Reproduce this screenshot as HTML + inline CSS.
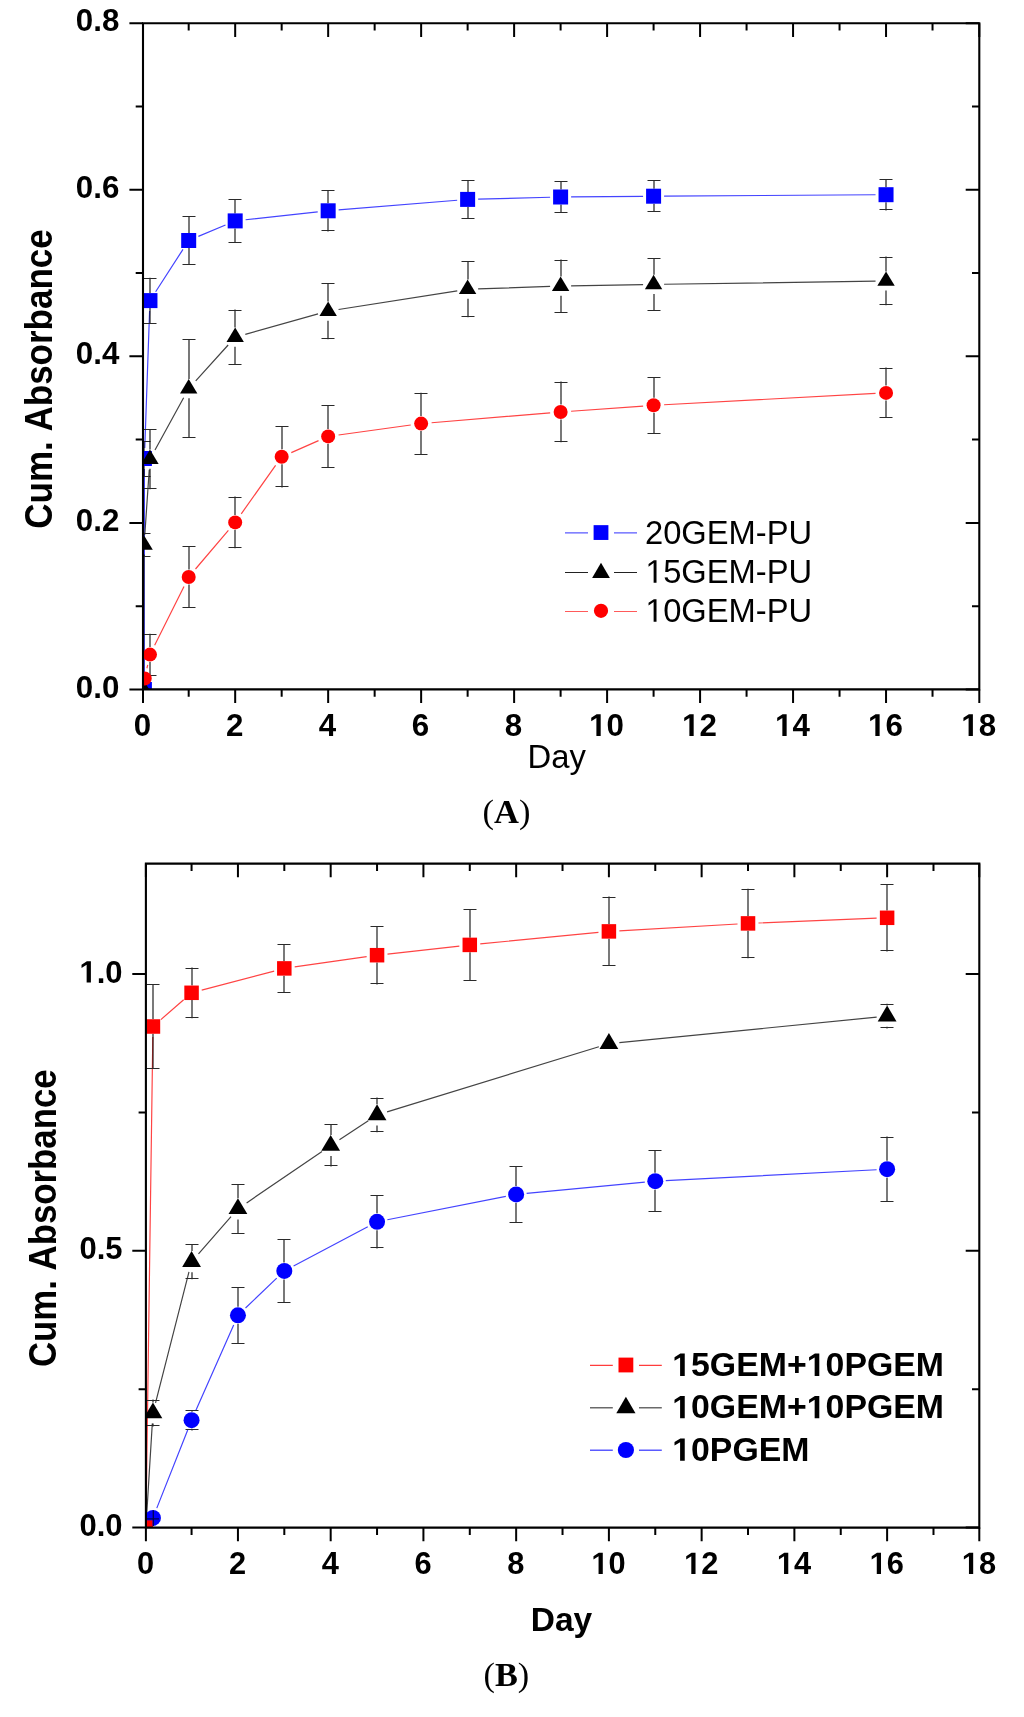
<!DOCTYPE html>
<html><head><meta charset="utf-8"><title>Cumulative Absorbance vs Day</title>
<style>html,body{margin:0;padding:0;background:#fff;}body{width:1024px;height:1717px;position:relative;overflow:hidden;}text{font-kerning:none;}</style>
</head><body>
<svg width="1024" height="1717" viewBox="0 0 1024 1717" font-family='"Liberation Sans", sans-serif' style="position:absolute;left:0;top:0;will-change:transform">
<defs>
<clipPath id="ca"><rect x="143.0" y="23.3" width="836.3" height="666.1"/></clipPath>
</defs>
<g transform="translate(133.696,735.900)"><text x="0.000" y="0" font-size="31.3" font-weight="bold">0</text></g>
<g transform="translate(225.876,735.900)"><text x="0.000" y="0" font-size="31.3" font-weight="bold">2</text></g>
<g transform="translate(318.856,735.900)"><text x="0.000" y="0" font-size="31.3" font-weight="bold">4</text></g>
<g transform="translate(411.836,735.900)"><text x="0.000" y="0" font-size="31.3" font-weight="bold">6</text></g>
<g transform="translate(504.816,735.900)"><text x="0.000" y="0" font-size="31.3" font-weight="bold">8</text></g>
<g transform="translate(589.092,735.900)"><path transform="translate(0.000,0) scale(0.015283,-0.015283)" d="M478,0 L478,1170 L140,959 L140,1180 L493,1409 L759,1409 L759,0 Z"/><text x="17.408" y="0" font-size="31.3" font-weight="bold">0</text></g>
<g transform="translate(682.072,735.900)"><path transform="translate(0.000,0) scale(0.015283,-0.015283)" d="M478,0 L478,1170 L140,959 L140,1180 L493,1409 L759,1409 L759,0 Z"/><text x="17.408" y="0" font-size="31.3" font-weight="bold">2</text></g>
<g transform="translate(775.052,735.900)"><path transform="translate(0.000,0) scale(0.015283,-0.015283)" d="M478,0 L478,1170 L140,959 L140,1180 L493,1409 L759,1409 L759,0 Z"/><text x="17.408" y="0" font-size="31.3" font-weight="bold">4</text></g>
<g transform="translate(868.032,735.900)"><path transform="translate(0.000,0) scale(0.015283,-0.015283)" d="M478,0 L478,1170 L140,959 L140,1180 L493,1409 L759,1409 L759,0 Z"/><text x="17.408" y="0" font-size="31.3" font-weight="bold">6</text></g>
<g transform="translate(961.292,735.900)"><path transform="translate(0.000,0) scale(0.015283,-0.015283)" d="M478,0 L478,1170 L140,959 L140,1180 L493,1409 L759,1409 L759,0 Z"/><text x="17.408" y="0" font-size="31.3" font-weight="bold">8</text></g>
<g transform="translate(75.789,697.500)"><text x="0.000" y="0" font-size="31.3" font-weight="bold">0.0</text></g>
<g transform="translate(75.789,530.980)"><text x="0.000" y="0" font-size="31.3" font-weight="bold">0.2</text></g>
<g transform="translate(75.789,364.460)"><text x="0.000" y="0" font-size="31.3" font-weight="bold">0.4</text></g>
<g transform="translate(75.789,197.940)"><text x="0.000" y="0" font-size="31.3" font-weight="bold">0.6</text></g>
<g transform="translate(75.789,31.420)"><text x="0.000" y="0" font-size="31.3" font-weight="bold">0.8</text></g>
<g clip-path="url(#ca)">
<path d="M144.40,679.00 L144.40,469.00 M144.77,448.01 L149.59,311.09 M155.65,291.77 L183.00,249.33 M198.37,236.42 L225.50,224.98 M245.62,219.77 L317.72,211.93 M338.63,209.94 L457.16,200.26 M478.13,199.13 L550.11,197.27 M571.11,196.91 L643.09,196.29 M664.09,196.13 L875.54,194.77 " fill="none" stroke="#4444ff" stroke-width="1.2"/>
<path d="M144,441.20 V451.00 M144,476.60 V466.00 M150,277.80 V293.10 M150,323.50 V308.10 M189,216.40 V233.00 M189,264.70 V248.00 M235,199.00 V213.40 M235,242.80 V228.40 M328,190.30 V203.30 M328,231.40 V218.30 M468,180.50 V191.90 M468,218.60 V206.90 M561,181.00 V189.50 M561,213.00 V204.50 M654,180.50 V188.70 M654,211.80 V203.70 M886,179.00 V187.20 M886,210.40 V202.20 " fill="none" stroke="#000" stroke-width="1.05"/>
<path d="M137.50,441.5 h13 M137.50,476.5 h13 M143.50,278.5 h13 M143.50,323.5 h13 M182.50,216.5 h13 M182.50,264.5 h13 M228.50,199.5 h13 M228.50,242.5 h13 M321.50,190.5 h13 M321.50,230.5 h13 M461.50,180.5 h13 M461.50,218.5 h13 M554.50,181.5 h13 M554.50,212.5 h13 M647.50,180.5 h13 M647.50,211.5 h13 M879.50,179.5 h13 M879.50,209.5 h13 " fill="none" stroke="#2a2a2a" stroke-width="1.1"/>
<rect x="136.90" y="682.00" width="15" height="15" fill="#0000ff"/>
<rect x="136.90" y="451.00" width="15" height="15" fill="#0000ff"/>
<rect x="142.46" y="293.10" width="15" height="15" fill="#0000ff"/>
<rect x="181.19" y="233.00" width="15" height="15" fill="#0000ff"/>
<rect x="227.68" y="213.40" width="15" height="15" fill="#0000ff"/>
<rect x="320.66" y="203.30" width="15" height="15" fill="#0000ff"/>
<rect x="460.13" y="191.90" width="15" height="15" fill="#0000ff"/>
<rect x="553.11" y="189.50" width="15" height="15" fill="#0000ff"/>
<rect x="646.09" y="188.70" width="15" height="15" fill="#0000ff"/>
<rect x="878.54" y="187.20" width="15" height="15" fill="#0000ff"/>
<path d="M143.54,679.00 L144.06,555.50 M144.82,534.52 L149.25,469.68 M155.01,449.99 L183.64,397.81 M195.73,380.81 L228.14,344.99 M245.29,334.36 L318.05,313.94 M338.53,309.47 L457.26,290.83 M478.12,288.85 L550.12,286.45 M571.11,285.91 L643.09,284.59 M664.09,284.25 L875.54,281.15 " fill="none" stroke="#444444" stroke-width="1.2"/>
<path d="M144,532.70 V535.40 M144,557.10 V554.60 M150,429.20 V449.60 M150,489.20 V468.80 M189,339.20 V379.00 M189,438.10 V398.20 M235,309.50 V327.60 M235,365.00 V346.80 M328,282.90 V301.50 M328,339.30 V320.70 M468,261.10 V279.60 M468,317.30 V298.80 M561,259.60 V276.50 M561,312.60 V295.70 M654,258.10 V274.80 M654,310.60 V294.00 M886,256.60 V271.40 M886,305.30 V290.60 " fill="none" stroke="#000" stroke-width="1.05"/>
<path d="M137.50,533.5 h13 M137.50,556.5 h13 M143.50,429.5 h13 M143.50,488.5 h13 M182.50,339.5 h13 M182.50,437.5 h13 M228.50,310.5 h13 M228.50,364.5 h13 M321.50,283.5 h13 M321.50,338.5 h13 M461.50,261.5 h13 M461.50,316.5 h13 M554.50,260.5 h13 M554.50,312.5 h13 M647.50,258.5 h13 M647.50,310.5 h13 M879.50,257.5 h13 M879.50,304.5 h13 " fill="none" stroke="#2a2a2a" stroke-width="1.1"/>
<path d="M143.50,679.90 L152.20,694.30 L134.80,694.30 Z" fill="#000000"/>
<path d="M144.10,535.40 L152.80,549.80 L135.40,549.80 Z" fill="#000000"/>
<path d="M149.96,449.60 L158.66,464.00 L141.26,464.00 Z" fill="#000000"/>
<path d="M188.69,379.00 L197.39,393.40 L179.99,393.40 Z" fill="#000000"/>
<path d="M235.18,327.60 L243.88,342.00 L226.48,342.00 Z" fill="#000000"/>
<path d="M328.16,301.50 L336.86,315.90 L319.46,315.90 Z" fill="#000000"/>
<path d="M467.63,279.60 L476.33,294.00 L458.93,294.00 Z" fill="#000000"/>
<path d="M560.61,276.50 L569.31,290.90 L551.91,290.90 Z" fill="#000000"/>
<path d="M653.59,274.80 L662.29,289.20 L644.89,289.20 Z" fill="#000000"/>
<path d="M886.04,271.40 L894.74,285.80 L877.34,285.80 Z" fill="#000000"/>
<path d="M146.96,668.25 L147.71,664.85 M154.65,645.20 L184.00,586.40 M195.50,569.01 L228.37,530.39 M241.25,513.83 L275.60,465.37 M291.29,452.58 L318.54,440.62 M338.56,434.97 L410.74,425.03 M431.60,422.73 L550.15,412.87 M571.08,411.25 L643.12,406.05 M664.08,404.74 L875.55,393.46 " fill="none" stroke="#ff4444" stroke-width="1.2"/>
<path d="M150,633.80 V647.10 M150,676.20 V662.10 M189,546.20 V569.50 M189,608.10 V584.50 M235,496.60 V514.90 M235,548.30 V529.90 M282,426.20 V449.30 M282,487.40 V464.30 M328,405.10 V428.90 M328,467.60 V443.90 M421,392.70 V416.10 M421,454.60 V431.10 M561,381.60 V404.50 M561,442.30 V419.50 M654,377.20 V397.80 M654,433.50 V412.80 M886,367.60 V385.40 M886,418.10 V400.40 " fill="none" stroke="#000" stroke-width="1.05"/>
<path d="M143.50,634.5 h13 M143.50,675.5 h13 M182.50,546.5 h13 M182.50,607.5 h13 M228.50,497.5 h13 M228.50,547.5 h13 M275.50,426.5 h13 M275.50,486.5 h13 M321.50,405.5 h13 M321.50,467.5 h13 M414.50,393.5 h13 M414.50,454.5 h13 M554.50,382.5 h13 M554.50,441.5 h13 M647.50,377.5 h13 M647.50,433.5 h13 M879.50,368.5 h13 M879.50,417.5 h13 " fill="none" stroke="#2a2a2a" stroke-width="1.1"/>
<circle cx="144.70" cy="678.50" r="7.0" fill="#ff0000"/>
<circle cx="149.96" cy="654.60" r="7.0" fill="#ff0000"/>
<circle cx="188.69" cy="577.00" r="7.0" fill="#ff0000"/>
<circle cx="235.18" cy="522.40" r="7.0" fill="#ff0000"/>
<circle cx="281.67" cy="456.80" r="7.0" fill="#ff0000"/>
<circle cx="328.16" cy="436.40" r="7.0" fill="#ff0000"/>
<circle cx="421.14" cy="423.60" r="7.0" fill="#ff0000"/>
<circle cx="560.61" cy="412.00" r="7.0" fill="#ff0000"/>
<circle cx="653.59" cy="405.30" r="7.0" fill="#ff0000"/>
<circle cx="886.04" cy="392.90" r="7.0" fill="#ff0000"/>
</g>
<path d="M143.0,23.3 H979.3 V689.4 H143.0 Z" fill="none" stroke="#000" stroke-width="2.1"/>
<path d="M143.00,689.4 v13.6 M143.00,23.3 v13.6 M235.18,689.4 v13.6 M235.18,23.3 v13.6 M328.16,689.4 v13.6 M328.16,23.3 v13.6 M421.14,689.4 v13.6 M421.14,23.3 v13.6 M514.12,689.4 v13.6 M514.12,23.3 v13.6 M607.10,689.4 v13.6 M607.10,23.3 v13.6 M700.08,689.4 v13.6 M700.08,23.3 v13.6 M793.06,689.4 v13.6 M793.06,23.3 v13.6 M886.04,689.4 v13.6 M886.04,23.3 v13.6 M979.30,689.4 v13.6 M979.30,23.3 v13.6 M188.69,689.4 v7.3 M188.69,23.3 v7.3 M281.67,689.4 v7.3 M281.67,23.3 v7.3 M374.65,689.4 v7.3 M374.65,23.3 v7.3 M467.63,689.4 v7.3 M467.63,23.3 v7.3 M560.61,689.4 v7.3 M560.61,23.3 v7.3 M653.59,689.4 v7.3 M653.59,23.3 v7.3 M746.57,689.4 v7.3 M746.57,23.3 v7.3 M839.55,689.4 v7.3 M839.55,23.3 v7.3 M932.53,689.4 v7.3 M932.53,23.3 v7.3 M143.0,689.40 h-13.6 M979.3,689.40 h-13.6 M143.0,522.88 h-13.6 M979.3,522.88 h-13.6 M143.0,356.36 h-13.6 M979.3,356.36 h-13.6 M143.0,189.84 h-13.6 M979.3,189.84 h-13.6 M143.0,23.32 h-13.6 M979.3,23.32 h-13.6 M143.0,606.14 h-7.3 M979.3,606.14 h-7.3 M143.0,439.62 h-7.3 M979.3,439.62 h-7.3 M143.0,273.10 h-7.3 M979.3,273.10 h-7.3 M143.0,106.58 h-7.3 M979.3,106.58 h-7.3 " fill="none" stroke="#000" stroke-width="2.0" stroke-linecap="butt"/>
<path d="M565,532.8 H588 M614,532.8 H637" stroke="#5a5aff" stroke-width="1.2" fill="none"/><rect x="593.60" y="525.15" width="14.8" height="14.8" fill="#0000ff"/>
<path d="M565,572.5 H588 M614,572.5 H637" stroke="#222" stroke-width="1.2" fill="none"/><path d="M601.00,562.70 L609.90,578.00 L592.10,578.00 Z" fill="#000000"/>
<path d="M565,611.5 H588 M614,611.5 H637" stroke="#ff5a5a" stroke-width="1.2" fill="none"/><circle cx="601.00" cy="610.80" r="7.1" fill="#ff0000"/>
<g transform="translate(645.000,543.800)"><text x="0.000" y="0" font-size="32.7" font-weight="normal">20GEM-PU</text></g>
<g transform="translate(645.000,582.800)"><path transform="translate(0.000,0) scale(0.015967,-0.015967)" d="M540,0 L540,1237 L222,1010 L222,1180 L555,1409 L721,1409 L721,0 Z"/><text x="18.186" y="0" font-size="32.7" font-weight="normal">5GEM-PU</text></g>
<g transform="translate(645.000,621.700)"><path transform="translate(0.000,0) scale(0.015967,-0.015967)" d="M540,0 L540,1237 L222,1010 L222,1180 L555,1409 L721,1409 L721,0 Z"/><text x="18.186" y="0" font-size="32.7" font-weight="normal">0GEM-PU</text></g>
<g transform="translate(527.500,767.700)"><text x="0.000" y="0" font-size="32.8" font-weight="normal">Day</text></g>
<text transform="translate(51.5,379.0) rotate(-90) scale(1,1.086)" font-size="35" font-weight="bold" text-anchor="middle">Cum. Absorbance</text>
<text x="482.5" y="822.9" font-family='"Liberation Serif", serif' font-size="34.5">(<tspan font-weight="bold">A</tspan>)</text>
<defs><clipPath id="cb"><rect x="145.9" y="863.6" width="833.4" height="663.9999999999999"/></clipPath></defs>
<g transform="translate(136.935,1573.900)"><text x="0.000" y="0" font-size="30.8" font-weight="bold">0</text></g>
<g transform="translate(228.975,1573.900)"><text x="0.000" y="0" font-size="30.8" font-weight="bold">2</text></g>
<g transform="translate(321.715,1573.900)"><text x="0.000" y="0" font-size="30.8" font-weight="bold">4</text></g>
<g transform="translate(414.455,1573.900)"><text x="0.000" y="0" font-size="30.8" font-weight="bold">6</text></g>
<g transform="translate(507.195,1573.900)"><text x="0.000" y="0" font-size="30.8" font-weight="bold">8</text></g>
<g transform="translate(591.371,1573.900)"><path transform="translate(0.000,0) scale(0.015039,-0.015039)" d="M478,0 L478,1170 L140,959 L140,1180 L493,1409 L759,1409 L759,0 Z"/><text x="17.129" y="0" font-size="30.8" font-weight="bold">0</text></g>
<g transform="translate(684.111,1573.900)"><path transform="translate(0.000,0) scale(0.015039,-0.015039)" d="M478,0 L478,1170 L140,959 L140,1180 L493,1409 L759,1409 L759,0 Z"/><text x="17.129" y="0" font-size="30.8" font-weight="bold">2</text></g>
<g transform="translate(776.851,1573.900)"><path transform="translate(0.000,0) scale(0.015039,-0.015039)" d="M478,0 L478,1170 L140,959 L140,1180 L493,1409 L759,1409 L759,0 Z"/><text x="17.129" y="0" font-size="30.8" font-weight="bold">4</text></g>
<g transform="translate(869.591,1573.900)"><path transform="translate(0.000,0) scale(0.015039,-0.015039)" d="M478,0 L478,1170 L140,959 L140,1180 L493,1409 L759,1409 L759,0 Z"/><text x="17.129" y="0" font-size="30.8" font-weight="bold">6</text></g>
<g transform="translate(961.771,1573.900)"><path transform="translate(0.000,0) scale(0.015039,-0.015039)" d="M478,0 L478,1170 L140,959 L140,1180 L493,1409 L759,1409 L759,0 Z"/><text x="17.129" y="0" font-size="30.8" font-weight="bold">8</text></g>
<g transform="translate(79.406,1536.000)"><text x="0.000" y="0" font-size="31.0" font-weight="bold">0.0</text></g>
<g transform="translate(79.406,1259.250)"><text x="0.000" y="0" font-size="31.0" font-weight="bold">0.5</text></g>
<g transform="translate(79.406,982.500)"><path transform="translate(0.000,0) scale(0.015137,-0.015137)" d="M478,0 L478,1170 L140,959 L140,1180 L493,1409 L759,1409 L759,0 Z"/><text x="17.241" y="0" font-size="31.0" font-weight="bold">.0</text></g>
<g clip-path="url(#cb)">
<path d="M146.05,1517.10 L152.80,1037.00 M160.86,1019.60 L183.66,999.70 M201.72,990.13 L274.16,971.07 M294.71,966.92 L366.65,956.68 M387.49,954.04 L459.35,946.06 M480.24,943.89 L598.45,932.41 M619.38,930.80 L737.53,924.00 M758.50,922.98 L876.63,918.22 " fill="none" stroke="#ff4444" stroke-width="1.2"/>
<path d="M153,984.50 V1019.25 M153,1068.60 V1033.75 M192,967.50 V985.55 M192,1018.20 V1000.05 M284,944.10 V961.15 M284,992.70 V975.65 M377,925.90 V947.95 M377,984.50 V962.45 M470,909.20 V937.65 M470,980.70 V952.15 M609,896.60 V924.15 M609,966.10 V938.65 M748,888.70 V916.15 M748,958.20 V930.65 M887,884.20 V910.55 M887,951.40 V925.05 " fill="none" stroke="#000" stroke-width="1.05"/>
<path d="M146.50,984.5 h13 M146.50,1068.5 h13 M185.50,968.5 h13 M185.50,1017.5 h13 M277.50,944.5 h13 M277.50,992.5 h13 M370.50,926.5 h13 M370.50,983.5 h13 M463.50,909.5 h13 M463.50,980.5 h13 M602.50,897.5 h13 M602.50,965.5 h13 M741.50,889.5 h13 M741.50,957.5 h13 M880.50,884.5 h13 M880.50,950.5 h13 " fill="none" stroke="#2a2a2a" stroke-width="1.1"/>
<rect x="138.65" y="1520.35" width="14.5" height="14.5" fill="#ff0000"/>
<rect x="145.69" y="1019.25" width="14.5" height="14.5" fill="#ff0000"/>
<rect x="184.32" y="985.55" width="14.5" height="14.5" fill="#ff0000"/>
<rect x="277.06" y="961.15" width="14.5" height="14.5" fill="#ff0000"/>
<rect x="369.80" y="947.95" width="14.5" height="14.5" fill="#ff0000"/>
<rect x="462.54" y="937.65" width="14.5" height="14.5" fill="#ff0000"/>
<rect x="601.65" y="924.15" width="14.5" height="14.5" fill="#ff0000"/>
<rect x="740.76" y="916.15" width="14.5" height="14.5" fill="#ff0000"/>
<rect x="879.87" y="910.55" width="14.5" height="14.5" fill="#ff0000"/>
<path d="M146.54,1517.12 L152.30,1423.48 M155.54,1402.83 L188.97,1271.87 M198.49,1253.80 L231.02,1216.70 M246.61,1202.88 L322.01,1151.42 M339.44,1139.72 L368.29,1120.68 M387.09,1111.82 L598.86,1046.78 M619.35,1042.66 L876.67,1017.14 " fill="none" stroke="#444444" stroke-width="1.2"/>
<path d="M153,1399.50 V1402.40 M153,1426.50 V1423.60 M192,1244.10 V1251.10 M192,1279.20 V1272.30 M238,1184.00 V1198.20 M238,1233.50 V1219.40 M331,1124.50 V1134.90 M331,1166.40 V1156.10 M377,1097.60 V1104.30 M377,1132.20 V1125.50 M887,1003.70 V1005.50 M887,1028.50 V1026.70 " fill="none" stroke="#000" stroke-width="1.05"/>
<path d="M146.50,1400.5 h13 M146.50,1425.5 h13 M185.50,1244.5 h13 M185.50,1278.5 h13 M231.50,1184.5 h13 M231.50,1233.5 h13 M324.50,1124.5 h13 M324.50,1165.5 h13 M370.50,1098.5 h13 M370.50,1131.5 h13 M880.50,1004.5 h13 M880.50,1027.5 h13 " fill="none" stroke="#2a2a2a" stroke-width="1.1"/>
<path d="M145.90,1517.00 L155.30,1532.90 L136.50,1532.90 Z" fill="#000000"/>
<path d="M152.94,1402.40 L162.34,1418.30 L143.54,1418.30 Z" fill="#000000"/>
<path d="M191.57,1251.10 L200.97,1267.00 L182.17,1267.00 Z" fill="#000000"/>
<path d="M237.94,1198.20 L247.34,1214.10 L228.54,1214.10 Z" fill="#000000"/>
<path d="M330.68,1134.90 L340.08,1150.80 L321.28,1150.80 Z" fill="#000000"/>
<path d="M377.05,1104.30 L386.45,1120.20 L367.65,1120.20 Z" fill="#000000"/>
<path d="M608.90,1033.10 L618.30,1049.00 L599.50,1049.00 Z" fill="#000000"/>
<path d="M887.12,1005.50 L896.52,1021.40 L877.72,1021.40 Z" fill="#000000"/>
<path d="M156.80,1508.14 L187.71,1429.96 M195.82,1410.60 L233.69,1324.90 M245.52,1308.04 L276.73,1278.16 M293.59,1265.99 L367.77,1226.71 M387.35,1219.77 L505.86,1196.43 M526.61,1193.41 L644.82,1182.19 M665.76,1180.66 L876.63,1169.74 " fill="none" stroke="#4444ff" stroke-width="1.2"/>
<path d="M192,1409.90 V1411.70 M192,1430.40 V1428.70 M238,1287.20 V1306.80 M238,1343.50 V1323.80 M284,1239.10 V1262.40 M284,1302.70 V1279.40 M377,1195.10 V1213.30 M377,1248.50 V1230.30 M516,1165.90 V1185.90 M516,1222.90 V1202.90 M655,1150.50 V1172.70 M655,1211.90 V1189.70 M887,1136.60 V1160.70 M887,1201.70 V1177.70 " fill="none" stroke="#000" stroke-width="1.05"/>
<path d="M185.50,1410.5 h13 M185.50,1429.5 h13 M231.50,1287.5 h13 M231.50,1343.5 h13 M277.50,1239.5 h13 M277.50,1302.5 h13 M370.50,1195.5 h13 M370.50,1247.5 h13 M509.50,1166.5 h13 M509.50,1222.5 h13 M648.50,1150.5 h13 M648.50,1211.5 h13 M880.50,1137.5 h13 M880.50,1201.5 h13 " fill="none" stroke="#2a2a2a" stroke-width="1.1"/>
<circle cx="152.94" cy="1517.90" r="8.0" fill="#0000ff"/>
<circle cx="191.57" cy="1420.20" r="8.0" fill="#0000ff"/>
<circle cx="237.94" cy="1315.30" r="8.0" fill="#0000ff"/>
<circle cx="284.31" cy="1270.90" r="8.0" fill="#0000ff"/>
<circle cx="377.05" cy="1221.80" r="8.0" fill="#0000ff"/>
<circle cx="516.16" cy="1194.40" r="8.0" fill="#0000ff"/>
<circle cx="655.27" cy="1181.20" r="8.0" fill="#0000ff"/>
<circle cx="887.12" cy="1169.20" r="8.0" fill="#0000ff"/>
<path d="M153.3,1510.3 V1526 M145,1518.8 H159" stroke="#000050" stroke-width="1.3" fill="none"/>
<rect x="137.95" y="1520.35" width="14.5" height="14.5" fill="#ff0000"/>
</g>
<path d="M145.9,863.6 H979.3 V1527.6 H145.9 Z" fill="none" stroke="#000" stroke-width="2.1"/>
<path d="M145.90,1527.6 v13.6 M145.90,863.6 v13.6 M237.94,1527.6 v13.6 M237.94,863.6 v13.6 M330.68,1527.6 v13.6 M330.68,863.6 v13.6 M423.42,1527.6 v13.6 M423.42,863.6 v13.6 M516.16,1527.6 v13.6 M516.16,863.6 v13.6 M608.90,1527.6 v13.6 M608.90,863.6 v13.6 M701.64,1527.6 v13.6 M701.64,863.6 v13.6 M794.38,1527.6 v13.6 M794.38,863.6 v13.6 M887.12,1527.6 v13.6 M887.12,863.6 v13.6 M979.30,1527.6 v13.6 M979.30,863.6 v13.6 M191.57,1527.6 v7.3 M191.57,863.6 v7.3 M284.31,1527.6 v7.3 M284.31,863.6 v7.3 M377.05,1527.6 v7.3 M377.05,863.6 v7.3 M469.79,1527.6 v7.3 M469.79,863.6 v7.3 M562.53,1527.6 v7.3 M562.53,863.6 v7.3 M655.27,1527.6 v7.3 M655.27,863.6 v7.3 M748.01,1527.6 v7.3 M748.01,863.6 v7.3 M840.75,1527.6 v7.3 M840.75,863.6 v7.3 M933.49,1527.6 v7.3 M933.49,863.6 v7.3 M145.9,1527.60 h-13.6 M979.3,1527.60 h-13.6 M145.9,1250.85 h-13.6 M979.3,1250.85 h-13.6 M145.9,974.10 h-13.6 M979.3,974.10 h-13.6 M145.9,1389.22 h-7.3 M979.3,1389.22 h-7.3 M145.9,1112.47 h-7.3 M979.3,1112.47 h-7.3 " fill="none" stroke="#000" stroke-width="2.0" stroke-linecap="butt"/>
<path d="M590,1365.3 H612.8 M639,1365.3 H661.8" stroke="#ff3c3c" stroke-width="1.2" fill="none"/><rect x="618.50" y="1357.60" width="14.8" height="14.8" fill="#ff0000"/>
<path d="M590,1407.7 H612.8 M639,1407.7 H661.8" stroke="#6a6a6a" stroke-width="1.6" fill="none"/><path d="M625.90,1396.80 L635.50,1413.15 L616.30,1413.15 Z" fill="#000000"/>
<path d="M590,1450.2 H612.8 M639,1450.2 H661.8" stroke="#5a5aff" stroke-width="1.4" fill="none"/><circle cx="625.90" cy="1450.00" r="8.1" fill="#0000ff"/>
<g transform="translate(672.200,1375.900) scale(1.045,1)"><path transform="translate(0.000,0) scale(0.015820,-0.015820)" d="M478,0 L478,1170 L140,959 L140,1180 L493,1409 L759,1409 L759,0 Z"/><text x="18.019" y="0" font-size="32.4" font-weight="bold">5GEM+</text><path transform="translate(128.762,0) scale(0.015820,-0.015820)" d="M478,0 L478,1170 L140,959 L140,1180 L493,1409 L759,1409 L759,0 Z"/><text x="146.781" y="0" font-size="32.4" font-weight="bold">0PGEM</text></g>
<g transform="translate(672.200,1418.300) scale(1.045,1)"><path transform="translate(0.000,0) scale(0.015820,-0.015820)" d="M478,0 L478,1170 L140,959 L140,1180 L493,1409 L759,1409 L759,0 Z"/><text x="18.019" y="0" font-size="32.4" font-weight="bold">0GEM+</text><path transform="translate(128.762,0) scale(0.015820,-0.015820)" d="M478,0 L478,1170 L140,959 L140,1180 L493,1409 L759,1409 L759,0 Z"/><text x="146.781" y="0" font-size="32.4" font-weight="bold">0PGEM</text></g>
<g transform="translate(672.200,1460.700) scale(1.045,1)"><path transform="translate(0.000,0) scale(0.015820,-0.015820)" d="M478,0 L478,1170 L140,959 L140,1180 L493,1409 L759,1409 L759,0 Z"/><text x="18.019" y="0" font-size="32.4" font-weight="bold">0PGEM</text></g>
<g transform="translate(530.700,1630.900)"><text x="0.000" y="0" font-size="33.5" font-weight="bold">Day</text></g>
<text transform="translate(55.8,1218.2) rotate(-90) scale(1,1.089)" font-size="34.8" font-weight="bold" text-anchor="middle">Cum. Absorbance</text>
<text x="483.5" y="1685.7" font-family='"Liberation Serif", serif' font-size="34.3">(<tspan font-weight="bold">B</tspan>)</text>
</svg>
</body></html>
